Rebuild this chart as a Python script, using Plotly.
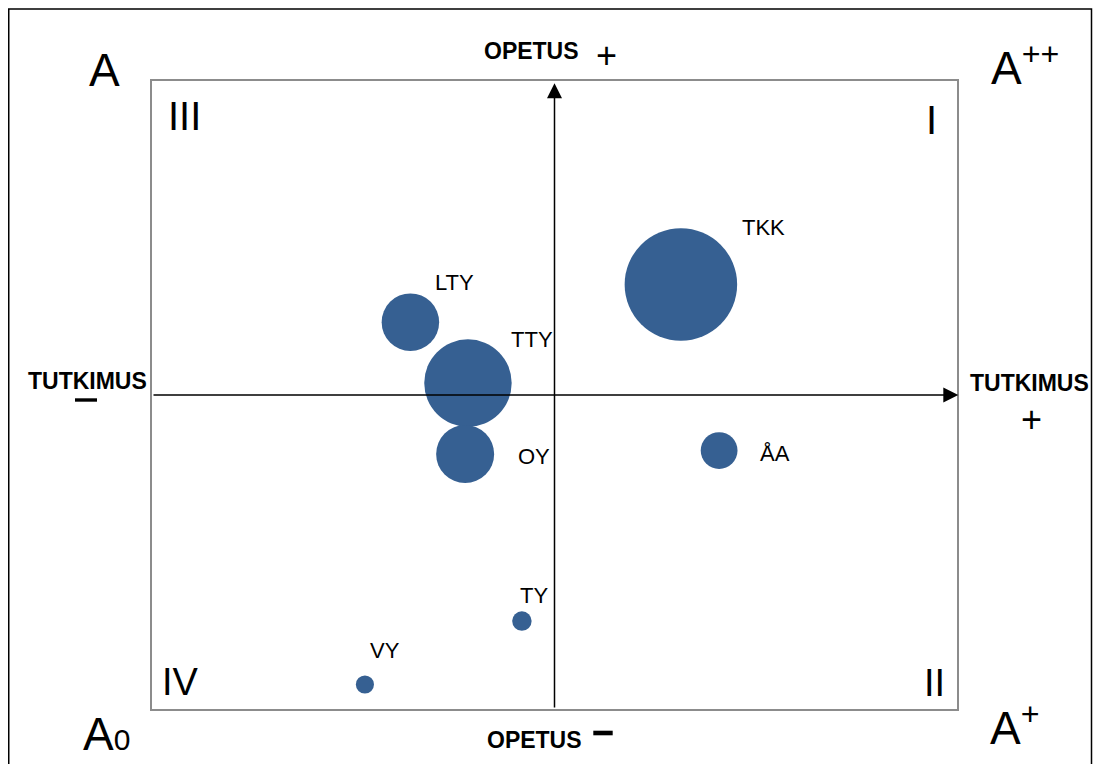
import plotly.graph_objects as go

# ---- data ----
yliopistot = ["TKK", "LTY", "TTY", "OY", "ÅA", "TY", "VY"]
tutkimus = [0.314, -0.358, -0.215, -0.222, 0.409, -0.081, -0.471]   # x
opetus = [0.352, 0.232, 0.038, -0.188, -0.177, -0.720, -0.922]      # y
koko = [100, 26.1, 60.4, 26.6, 10.7, 3.0, 2.6]                      # bubble size (area)

# label offsets (pixels, right / up) from each bubble
label_dx = [83, 44, 64.5, 68.5, 56, 11.7, 20]
label_dy = [56.5, 39.3, 44, -2, -2.8, 26, 34.5]

# ---- layout geometry ----
W, H = 1093, 764
L, T = 152, 81
R = W - 957
B = H - 709
PW, PH = W - L - R, H - T - B
FONT = "Liberation Sans, Arial, sans-serif"
BLUE = "#366092"


def px(x):
    return (x - L) / PW


def py(y):
    return (H - B - y) / PH


MAXD = 112.5
fig = go.Figure()
fig.add_trace(go.Scatter(
    x=tutkimus, y=opetus, mode="markers",
    marker=dict(size=koko, sizemode="area", sizeref=2.0 * max(koko) / MAXD ** 2,
                color=BLUE, line=dict(width=0), opacity=1),
    hoverinfo="text", text=yliopistot,
))

ann = []
for name, x, y, dx, dy in zip(yliopistot, tutkimus, opetus, label_dx, label_dy):
    ann.append(dict(x=x, y=y, xref="x", yref="y", text=name, showarrow=False,
                    xshift=dx, yshift=dy, xanchor="center", yanchor="middle",
                    font=dict(family=FONT, size=22, color="black")))

# axes arrows
ann.append(dict(x=0, y=(395 - 83.3) / 314, ax=0, ay=-1, xref="x", yref="y", axref="x", ayref="y",
                text="", showarrow=True, arrowhead=2, arrowsize=2, arrowwidth=1.5,
                arrowcolor="black", standoff=0, startstandoff=0))
ann.append(dict(x=(958.3 - 554.5) / 402.5, y=0, ax=-1, ay=0, xref="x", yref="y", axref="x", ayref="y",
                text="", showarrow=True, arrowhead=2, arrowsize=2, arrowwidth=1.5,
                arrowcolor="black", standoff=0, startstandoff=0))


def txt(text, cx, cy, size, bold=False, xanchor="center", yanchor="middle"):
    ann.append(dict(x=px(cx), y=py(cy), xref="paper", yref="paper", text=text,
                    showarrow=False, xanchor=xanchor, yanchor=yanchor,
                    font=dict(family=FONT, size=size, color="black",
                              weight="bold" if bold else "normal")))


txt("OPETUS", 531, 51.3, 23, bold=True)
txt("+", 606, 56, 36)
txt("OPETUS", 534.7, 739.7, 23, bold=True)
txt("TUTKIMUS", 87.3, 380.8, 23, bold=True)
txt("TUTKIMUS", 1029, 383, 23, bold=True)
txt("+", 1031, 419, 36)
txt("III", 184, 116.3, 40)
txt("I", 931, 120.5, 40)
txt("IV", 180, 681.7, 38)
txt("II", 934.5, 683, 38)


# corner grades: bottom-anchored at baseline
def corner(text, left, baseline, size=46):
    ann.append(dict(x=px(left - 2), y=py(baseline + 0.212 * size + 2), xref="paper", yref="paper",
                    text=text, showarrow=False, xanchor="left", yanchor="bottom",
                    font=dict(family=FONT, size=size, color="black")))


corner("A", 89, 86)
corner("A<sup>++</sup>", 990.7, 84.5)
corner("A<span style='font-size:30px'>0</span>", 83.3, 750)
corner("A<sup>+</sup>", 990, 744.5)

shapes = [
    # outer frame
    dict(type="rect", xref="paper", yref="paper", x0=px(8.75), x1=px(1091.5), y0=py(800), y1=py(9),
         line=dict(color="black", width=1.5), fillcolor="rgba(0,0,0,0)", layer="below"),
    # minus signs
    dict(type="rect", xref="paper", yref="paper", x0=px(75), x1=px(97), y0=py(401.7), y1=py(398.3),
         line=dict(width=0), fillcolor="black"),
    dict(type="rect", xref="paper", yref="paper", x0=px(593.3), x1=px(612.7), y0=py(735.3), y1=py(730.7),
         line=dict(width=0), fillcolor="black"),
]

axis_common = dict(showgrid=False, zeroline=False, showticklabels=False, ticks="",
                   showline=True, mirror=True, linecolor="#8c8c8c", linewidth=2, fixedrange=True)
fig.update_layout(
    width=W, height=H, autosize=False,
    margin=dict(l=L, r=R, t=T, b=B, pad=0),
    paper_bgcolor="white", plot_bgcolor="white",
    showlegend=False,
    xaxis=dict(range=[-1, 1], **axis_common),
    yaxis=dict(range=[-1, 1], **axis_common),
    annotations=ann, shapes=shapes,
)

fig.write_html("out.html", config={"displayModeBar": False},
               post_script="document.body.style.margin='0';document.body.style.overflow='hidden';")
